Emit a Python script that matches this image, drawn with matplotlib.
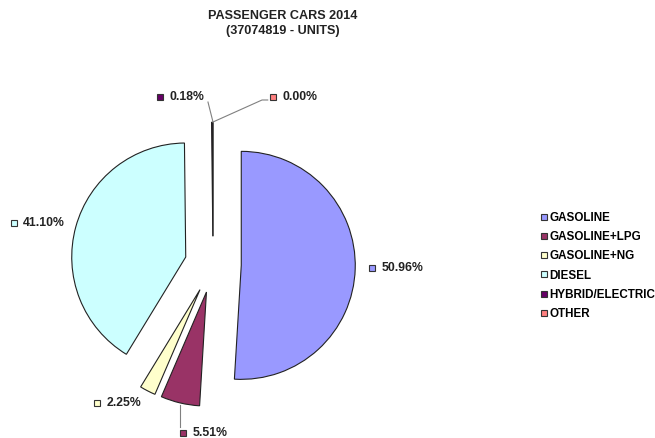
import numpy as np
import matplotlib
matplotlib.use('Agg')
import matplotlib.pyplot as plt
from matplotlib.lines import Line2D

plt.rcParams['font.family'] = ['Liberation Sans', 'DejaVu Sans']

# data
fuels = ['GASOLINE', 'GASOLINE+LPG', 'GASOLINE+NG', 'DIESEL', 'HYBRID/ELECTRIC', 'OTHER']
shares = [50.96, 5.51, 2.25, 41.10, 0.18, 0.00]
colors = ['#9999FF', '#993366', '#FFFFCC', '#CCFFFF', '#660066', '#FF8080']

# label spots (data units of the pie axes, radius = 1)
label_pos = [(1.395, -0.03), (-0.263, -1.478), (-1.018, -1.215),
             (-1.746, 0.36), (-0.465, 1.469), (0.526, 1.469)]

W, H = 655, 438
cx, cy, R = 213, 264.5, 114  # pie centre / radius in pixels

fig = plt.figure(figsize=(W / 100, H / 100), dpi=100)
ax = fig.add_axes([0, 0, 1, 1])

wedges, _ = ax.pie(shares, colors=colors, startangle=90, counterclock=False,
                   explode=[0.248] * len(shares),
                   wedgeprops=dict(edgecolor='#222222', linewidth=0.8))

ax.set_xlim(-cx / R, (W - cx) / R)
ax.set_ylim(-(H - cy) / R, cy / R)
ax.set_aspect('equal', adjustable='box')
ax.axis('off')

# leader lines for the thin / small slices
tip = (0.0, 1.25)
ax.plot([tip[0], -0.044], [tip[1], 1.425], color='#808080', lw=0.8)
ax.plot([tip[0], 0.43, 0.48], [tip[1], 1.443, 1.443], color='#808080', lw=0.8)
ax.plot([-0.29, -0.29], [-1.232, -1.425], color='#808080', lw=0.8)

for (x, y), s, c in zip(label_pos, shares, colors):
    ax.plot(x, y, marker='s', ms=4.2, mfc=c, mec='#333333', mew=0.8)
    ax.text(x + 0.082, y, f'{s:.2f}%', fontsize=8.8, fontweight='bold',
            va='center', ha='left', color='#222222')

handles = [Line2D([], [], ls='none', marker='s', ms=4.5, mfc=c, mec='#333333', mew=0.8)
           for c in colors]
fig.legend(handles, fuels, loc='upper left', bbox_to_anchor=(535 / W, 1 - 206 / H),
           frameon=False, prop=dict(size=8.4, weight='bold'), handlelength=0.5,
           handletextpad=0.2, labelspacing=0.62, borderpad=0)

fig.text(283 / W, 1 - 10 / H, 'PASSENGER CARS 2014\n(37074819 - UNITS)',
         ha='center', va='top', fontsize=9.1, fontweight='bold',
         linespacing=1.32, color='#222222')

fig.savefig('out.png', dpi=100)
